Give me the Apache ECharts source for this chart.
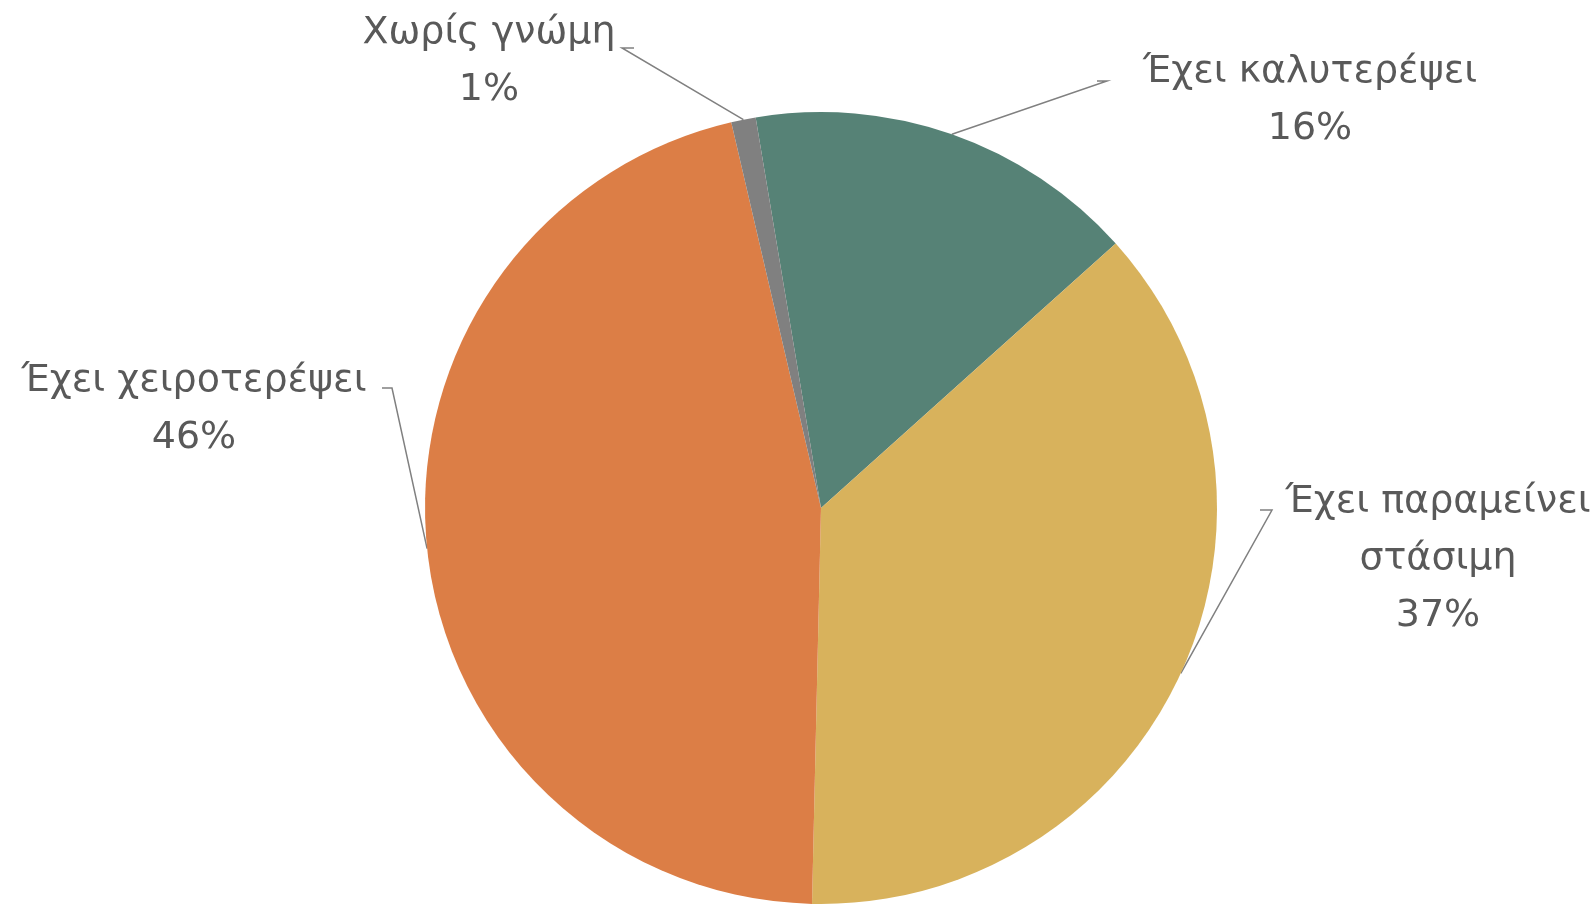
<!DOCTYPE html>
<html>
<head>
<meta charset="utf-8">
<script src="https://cdn.jsdelivr.net/npm/echarts@6/dist/echarts.min.js"></script>
<style>
html,body{margin:0;padding:0;background:#fff;}
#chart{width:1595px;height:908px;}
</style>
</head>
<body>
<div id="chart"></div>
<script>
const categories = ['Έχει καλυτερέψει', 'Έχει παραμείνει\nστάσιμη', 'Έχει χειροτερέψει', 'Χωρίς γνώμη'];
const values = [16, 37, 46, 1];
const colors = ['#568276', '#D8B25C', '#DC7E46', '#808080'];

// label block placement (centre x, centre y) and elbow of leader line
const labelPos = [
  {x: 1310, y: 101, ex: 1107, ey: 81, hx: 1097},
  {x: 1438, y: 559, ex: 1272, ey: 510, hx: 1260},
  {x: 194, y: 410, ex: 392, ey: 388, hx: 382},
  {x: 489, y: 62, ex: 622, ey: 48, hx: 634}
];

const chart = echarts.init(document.getElementById('chart'));
chart.setOption({
  animation: false,
  backgroundColor: '#ffffff',
  series: [{
    type: 'pie',
    center: [821, 508],
    radius: 396,
    startAngle: 99.5,
    clockwise: true,
    avoidLabelOverlap: false,
    data: categories.map((c, i) => ({name: c, value: values[i], itemStyle: {color: colors[i]}})),
    label: {
      show: true,
      position: 'outside',
      formatter: '{b}\n{d}%',
      fontFamily: 'DejaVu Sans',
      fontSize: 38,
      lineHeight: 57,
      color: '#595959',
      align: 'center'
    },
    labelLine: {
      show: true,
      lineStyle: {color: '#808080', width: 1.5},
      length: 20,
      length2: 10
    },
    labelLayout: function (params) {
      const p = labelPos[params.dataIndex];
      const start = params.labelLinePoints ? params.labelLinePoints[0] : [p.ex, p.ey];
      return {
        x: p.x,
        y: p.y,
        align: 'center',
        verticalAlign: 'middle',
        labelLinePoints: [start, [p.ex, p.ey], [p.hx, p.ey]]
      };
    }
  }]
});
</script>
</body>
</html>
